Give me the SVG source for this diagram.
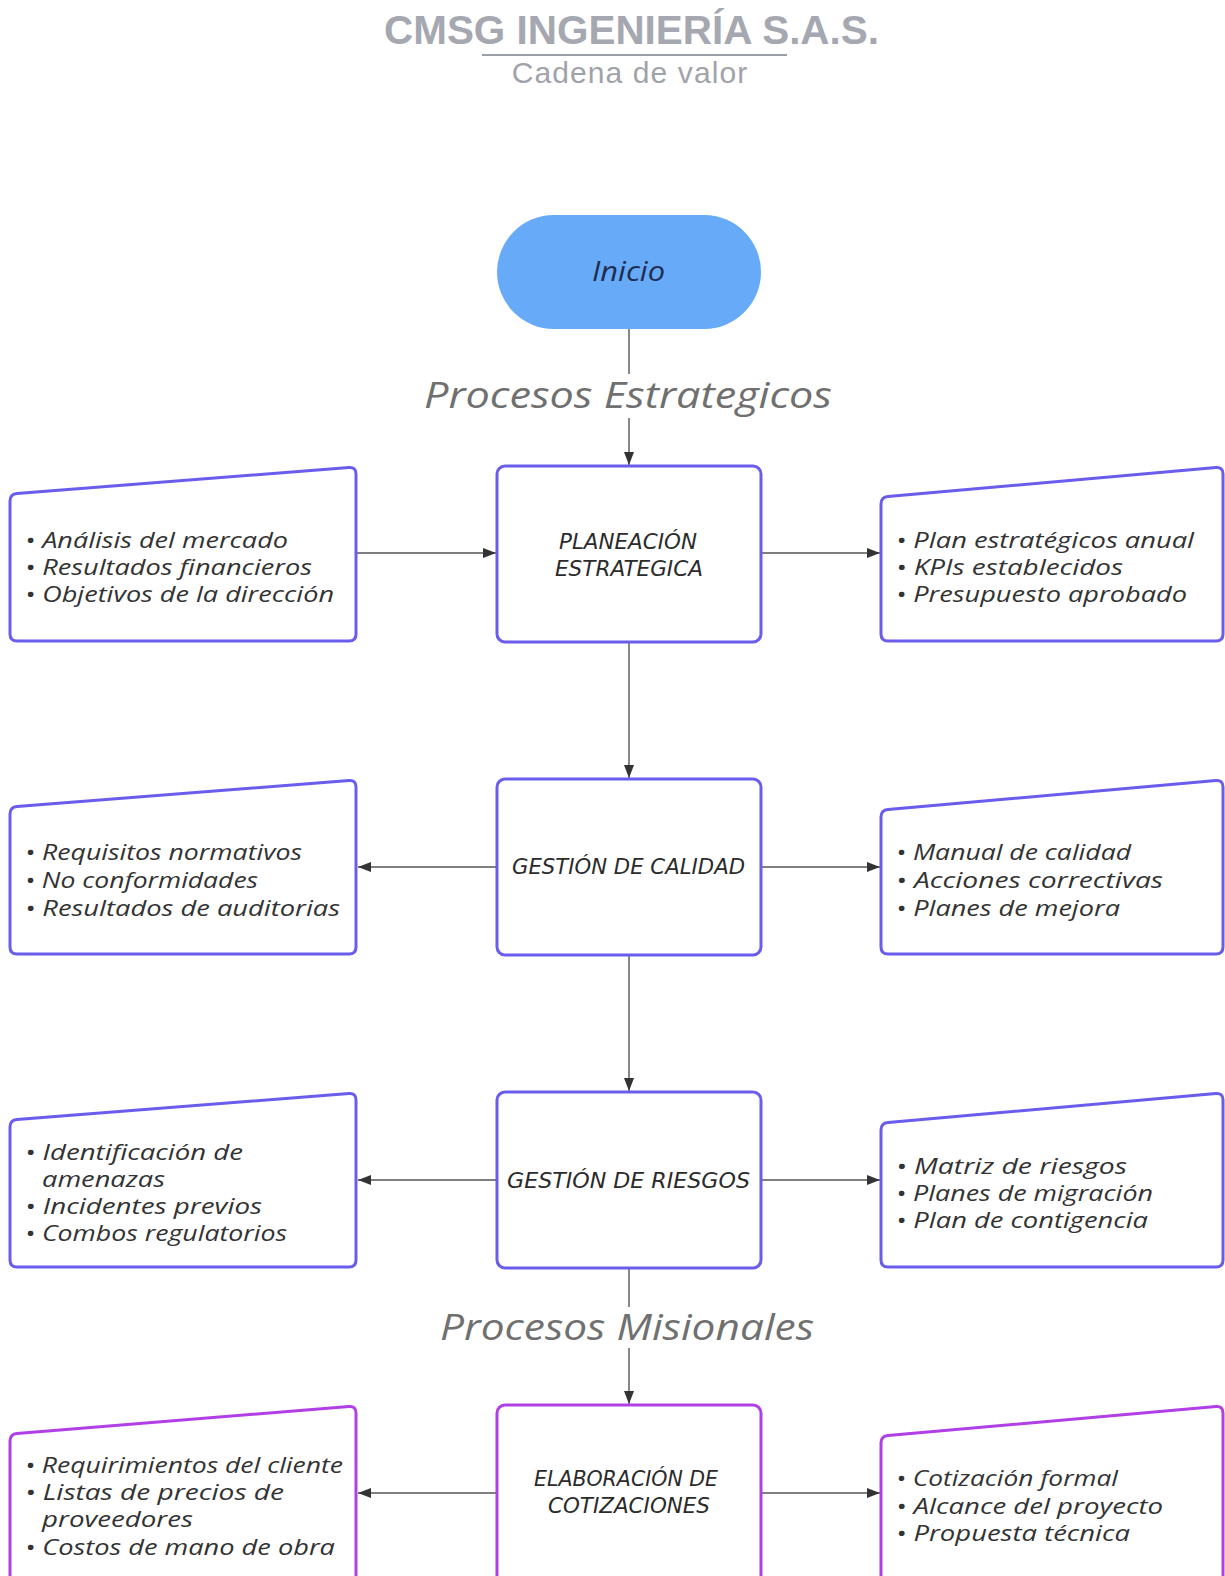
<svg xmlns="http://www.w3.org/2000/svg" width="1225" height="1576" viewBox="0 0 1225 1576">
<style>
.title{font-family:"Liberation Sans",Arial,sans-serif;font-weight:bold;font-size:40px;fill:#a5a8b0}
.sub{font-family:"Liberation Sans",Arial,sans-serif;font-size:30px;letter-spacing:1.1px;fill:#a0a3aa}
.sec{font-family:"Open Sans","Noto Sans",sans-serif;font-style:italic;font-size:36px;fill:#707070}
.ctr{font-family:"DejaVu Sans Condensed","Liberation Sans Narrow","DejaVu Sans",sans-serif;font-style:italic;font-size:21px;fill:#2b2b2b}
.side{font-family:"Open Sans","Noto Sans",sans-serif;font-style:italic;font-size:22px;fill:#333333}
.box{fill:#ffffff;stroke:#6a5cec;stroke-width:3}
.boxm{fill:#ffffff;stroke:#b03fe6;stroke-width:3}
.conn{fill:none;stroke:#555555;stroke-width:1.4}
</style>
<defs>
<marker id="arr" markerUnits="userSpaceOnUse" markerWidth="13" markerHeight="10" refX="13" refY="5" orient="auto">
<path d="M0,0 L13,5 L0,10 Z" fill="#333333"/>
</marker>
</defs>
<rect width="1225" height="1576" fill="#ffffff"/>

<g id="header">
<text class="title" x="384" y="44" textLength="495" lengthAdjust="spacingAndGlyphs">CMSG INGENIERÍA S.A.S.</text>
<line x1="482" y1="55" x2="787" y2="55" stroke="#9a9ea6" stroke-width="2"/>
<text class="sub" x="630" y="83" text-anchor="middle">Cadena de valor</text>
</g>

<g id="connectors">
<path class="conn" d="M629 329 V374"/>
<path class="conn" d="M629 418 V465" marker-end="url(#arr)"/>
<path class="conn" d="M357 553 H496" marker-end="url(#arr)"/>
<path class="conn" d="M761 553 H880" marker-end="url(#arr)"/>
<path class="conn" d="M629 642 V778" marker-end="url(#arr)"/>
<path class="conn" d="M497 867 H358" marker-end="url(#arr)"/>
<path class="conn" d="M761 867 H880" marker-end="url(#arr)"/>
<path class="conn" d="M629 955 V1091" marker-end="url(#arr)"/>
<path class="conn" d="M497 1180 H358" marker-end="url(#arr)"/>
<path class="conn" d="M761 1180 H880" marker-end="url(#arr)"/>
<path class="conn" d="M629 1268 V1307"/>
<path class="conn" d="M629 1348 V1404" marker-end="url(#arr)"/>
<path class="conn" d="M497 1493 H358" marker-end="url(#arr)"/>
<path class="conn" d="M761 1493 H880" marker-end="url(#arr)"/>
</g>

<g id="labels">
<text class="sec" x="424" y="408" textLength="408" lengthAdjust="spacingAndGlyphs">Procesos Estrategicos</text>
<text class="sec" x="440" y="1340" textLength="374" lengthAdjust="spacingAndGlyphs">Procesos Misionales</text>
</g>

<g id="inicio">
<rect x="497" y="215" width="264" height="114" rx="57" fill="#66aaf8"/>
<text x="592" y="281" textLength="73" lengthAdjust="spacingAndGlyphs" font-family="Open Sans, Noto Sans, sans-serif" font-style="italic" font-size="27" fill="#1e2d50">Inicio</text>
</g>

<!-- Row 1 -->
<g id="planeacion">
<rect class="box" x="497" y="466" width="264" height="176" rx="8"/>
<text class="ctr" x="559" y="549" textLength="138" lengthAdjust="spacingAndGlyphs">PLANEACIÓN</text>
<text class="ctr" x="555" y="576" textLength="148" lengthAdjust="spacingAndGlyphs">ESTRATEGICA</text>
</g>
<g id="in-planeacion">
<path class="box" d="M10 501 Q10 494 17 493.4 L349 467.6 Q356 467 356 474 L356 634 Q356 641 349 641 L17 641 Q10 641 10 634 Z"/>
<text class="side" x="25" y="548" textLength="263" lengthAdjust="spacingAndGlyphs">• Análisis del mercado</text>
<text class="side" x="25" y="575" textLength="287" lengthAdjust="spacingAndGlyphs">• Resultados financieros</text>
<text class="side" x="25" y="602" textLength="309" lengthAdjust="spacingAndGlyphs">• Objetivos de la dirección</text>
</g>
<g id="out-planeacion">
<path class="box" d="M881 504 Q881 497 888 496.4 L1216 467.6 Q1223 467 1223 474 L1223 634 Q1223 641 1216 641 L888 641 Q881 641 881 634 Z"/>
<text class="side" x="896" y="548" textLength="298" lengthAdjust="spacingAndGlyphs">• Plan estratégicos anual</text>
<text class="side" x="896" y="575" textLength="227" lengthAdjust="spacingAndGlyphs">• KPIs establecidos</text>
<text class="side" x="896" y="602" textLength="291" lengthAdjust="spacingAndGlyphs">• Presupuesto aprobado</text>
</g>

<!-- Row 2 -->
<g id="calidad">
<rect class="box" x="497" y="779" width="264" height="176" rx="8"/>
<text class="ctr" x="512" y="874" textLength="233" lengthAdjust="spacingAndGlyphs">GESTIÓN DE CALIDAD</text>
</g>
<g id="in-calidad">
<path class="box" d="M10 814 Q10 807 17 806.4 L349 780.6 Q356 780 356 787 L356 947 Q356 954 349 954 L17 954 Q10 954 10 947 Z"/>
<text class="side" x="25" y="860" textLength="277" lengthAdjust="spacingAndGlyphs">• Requisitos normativos</text>
<text class="side" x="25" y="888" textLength="233" lengthAdjust="spacingAndGlyphs">• No conformidades</text>
<text class="side" x="25" y="916" textLength="315" lengthAdjust="spacingAndGlyphs">• Resultados de auditorias</text>
</g>
<g id="out-calidad">
<path class="box" d="M881 817 Q881 810 888 809.4 L1216 780.6 Q1223 780 1223 787 L1223 947 Q1223 954 1216 954 L888 954 Q881 954 881 947 Z"/>
<text class="side" x="896" y="860" textLength="235" lengthAdjust="spacingAndGlyphs">• Manual de calidad</text>
<text class="side" x="896" y="888" textLength="267" lengthAdjust="spacingAndGlyphs">• Acciones correctivas</text>
<text class="side" x="896" y="916" textLength="224" lengthAdjust="spacingAndGlyphs">• Planes de mejora</text>
</g>

<!-- Row 3 -->
<g id="riesgos">
<rect class="box" x="497" y="1092" width="264" height="176" rx="8"/>
<text class="ctr" x="507" y="1188" textLength="243" lengthAdjust="spacingAndGlyphs">GESTIÓN DE RIESGOS</text>
</g>
<g id="in-riesgos">
<path class="box" d="M10 1127 Q10 1120 17 1119.4 L349 1093.6 Q356 1093 356 1100 L356 1260 Q356 1267 349 1267 L17 1267 Q10 1267 10 1260 Z"/>
<text class="side" x="25" y="1160" textLength="218" lengthAdjust="spacingAndGlyphs">• Identificación de</text>
<text class="side" x="42" y="1187" textLength="123" lengthAdjust="spacingAndGlyphs">amenazas</text>
<text class="side" x="25" y="1214" textLength="237" lengthAdjust="spacingAndGlyphs">• Incidentes previos</text>
<text class="side" x="25" y="1241" textLength="262" lengthAdjust="spacingAndGlyphs">• Combos regulatorios</text>
</g>
<g id="out-riesgos">
<path class="box" d="M881 1130 Q881 1123 888 1122.4 L1216 1093.6 Q1223 1093 1223 1100 L1223 1260 Q1223 1267 1216 1267 L888 1267 Q881 1267 881 1260 Z"/>
<text class="side" x="896" y="1174" textLength="231" lengthAdjust="spacingAndGlyphs">• Matriz de riesgos</text>
<text class="side" x="896" y="1201" textLength="257" lengthAdjust="spacingAndGlyphs">• Planes de migración</text>
<text class="side" x="896" y="1228" textLength="252" lengthAdjust="spacingAndGlyphs">• Plan de contigencia</text>
</g>

<!-- Row 4 -->
<g id="cotizaciones">
<rect class="boxm" x="497" y="1405" width="264" height="190" rx="8"/>
<text class="ctr" x="534" y="1486" textLength="184" lengthAdjust="spacingAndGlyphs">ELABORACIÓN DE</text>
<text class="ctr" x="548" y="1513" textLength="162" lengthAdjust="spacingAndGlyphs">COTIZACIONES</text>
</g>
<g id="in-cotizaciones">
<path class="boxm" d="M10 1441 Q10 1434 17 1433.4 L349 1406.6 Q356 1406 356 1413 L356 1590 L10 1590 Z"/>
<text class="side" x="25" y="1473" textLength="318" lengthAdjust="spacingAndGlyphs">• Requirimientos del cliente</text>
<text class="side" x="25" y="1500" textLength="259" lengthAdjust="spacingAndGlyphs">• Listas de precios de</text>
<text class="side" x="42" y="1527" textLength="151" lengthAdjust="spacingAndGlyphs">proveedores</text>
<text class="side" x="25" y="1555" textLength="310" lengthAdjust="spacingAndGlyphs">• Costos de mano de obra</text>
</g>
<g id="out-cotizaciones">
<path class="boxm" d="M881 1443 Q881 1436 888 1435.4 L1216 1406.6 Q1223 1406 1223 1413 L1223 1590 L881 1590 Z"/>
<text class="side" x="896" y="1486" textLength="222" lengthAdjust="spacingAndGlyphs">• Cotización formal</text>
<text class="side" x="896" y="1514" textLength="267" lengthAdjust="spacingAndGlyphs">• Alcance del proyecto</text>
<text class="side" x="896" y="1541" textLength="234" lengthAdjust="spacingAndGlyphs">• Propuesta técnica</text>
</g>
</svg>
